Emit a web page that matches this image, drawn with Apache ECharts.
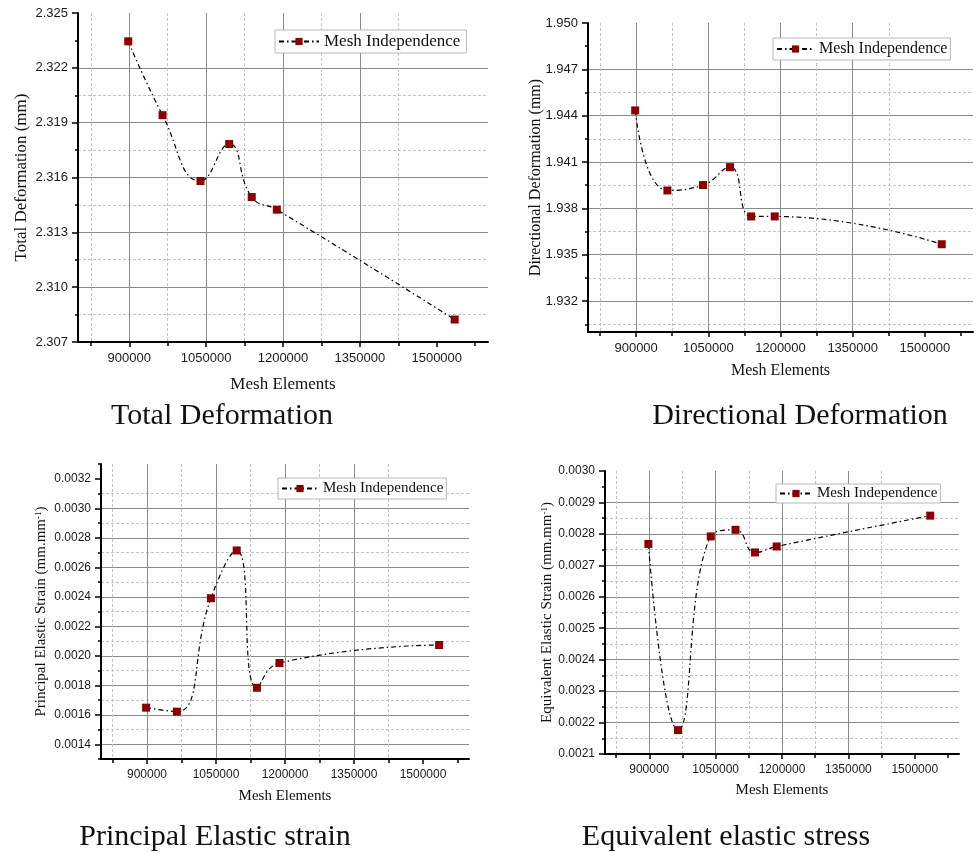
<!DOCTYPE html>
<html>
<head>
<meta charset="utf-8">
<title>Mesh Independence</title>
<script src="https://cdn.jsdelivr.net/npm/echarts@6/dist/echarts.min.js"></script>
<style>
  html, body { margin: 0; padding: 0; background: #fff; }
  #chart { width: 976px; height: 853px; }
</style>
</head>
<body>
<div id="chart"></div>
<script>
// mesh element counts, shared by the four plots
const meshElements = [898000, 965000, 1039000, 1095000, 1139000, 1188000, 1535000]

// results per mesh
const totalDeformation = [2.32345, 2.31941, 2.31581, 2.31783, 2.31493, 2.31424, 2.30823]
const directionalDeformation = [1.94434, 1.93916, 1.93951, 1.94067, 1.93748, 1.93748, 1.93568]
const principalStrain = [0.001648, 0.001621, 0.002390, 0.002714, 0.001783, 0.001951, 0.002073]
const equivalentStrain = [0.002768, 0.002176, 0.002792, 0.002813, 0.002741, 0.002760, 0.002858]

// tick values (major = labelled, minor = dashed grid)
const xMajor = [900000, 1050000, 1200000, 1350000, 1500000]
const xMinor = [825000, 975000, 1125000, 1275000, 1425000, 1575000]
const totalMajor = [2.307, 2.310, 2.313, 2.316, 2.319, 2.322, 2.325]
const totalMinor = [2.3085, 2.3115, 2.3145, 2.3175, 2.3205, 2.3235]
const directionalMajor = [1.932, 1.935, 1.938, 1.941, 1.944, 1.947, 1.950]
const directionalMinor = [1.9305, 1.9335, 1.9365, 1.9395, 1.9425, 1.9455, 1.9485]
const principalMajor = [0.0014, 0.0016, 0.0018, 0.0020, 0.0022, 0.0024, 0.0026, 0.0028, 0.0030, 0.0032]
const principalMinor = [0.0013, 0.0015, 0.0017, 0.0019, 0.0021, 0.0023, 0.0025, 0.0027, 0.0029, 0.0031, 0.0033]
const equivalentMajor = [0.0021, 0.0022, 0.0023, 0.0024, 0.0025, 0.0026, 0.0027, 0.0028, 0.0029, 0.0030]
const equivalentMinor = [0.00215, 0.00225, 0.00235, 0.00245, 0.00255, 0.00265, 0.00275, 0.00285, 0.00295]

const seriesName = 'Mesh Independence'
const xName = 'Mesh Elements'
const plotTitles = ['Total Deformation', 'Directional Deformation', 'Principal Elastic strain', 'Equivalent elastic stress']

const SERIF = '"Liberation Serif", "Times New Roman", serif'
const SANS = '"Liberation Sans", Arial, sans-serif'

// layout of each panel
const panels = [
  {
    grid: { left: 78, top: 13, width: 410, height: 329 },
    yRange: [2.307, 2.325], values: totalDeformation, yMajor: totalMajor, yMinor: totalMinor, digits: 3,
    yName: '{n|Total Deformation (mm)}',
    labelSize: 13, nameSize: 17, yGap: 48, xGap: 34,
    legend: { left: 275, top: 30, icon: 40, pad: [3, 6, 3, 3] }, title: { x: 222, y: 416 }
  },
  {
    grid: { left: 588, top: 23, width: 385, height: 309 },
    yRange: [1.930, 1.950], values: directionalDeformation, yMajor: directionalMajor, yMinor: directionalMinor, digits: 3,
    yName: '{n|Directional Deformation (mm)}',
    labelSize: 13, nameSize: 16, yGap: 44, xGap: 31,
    legend: { left: 773, top: 38, icon: 37, pad: [3, 3, 3, 3] }, title: { x: 800, y: 416 }
  },
  {
    grid: { left: 101, top: 464, width: 368, height: 295 },
    yRange: [0.0013, 0.0033], values: principalStrain, yMajor: principalMajor, yMinor: principalMinor, digits: 4,
    yName: '{n|Principal Elastic Strain (mm.mm}{s|-1}{n|)}',
    labelSize: 12, nameSize: 15, yGap: 52, xGap: 30,
    legend: { left: 278, top: 478, icon: 36, pad: [3, 3, 3, 3] }, title: { x: 215, y: 837 }
  },
  {
    grid: { left: 605, top: 471, width: 354, height: 283 },
    yRange: [0.0021, 0.0030], values: equivalentStrain, yMajor: equivalentMajor, yMinor: equivalentMinor, digits: 4,
    yName: '{n|Equivalent Elastic Strain (mm.mm}{s|-1}{n|)}',
    labelSize: 12, nameSize: 15, yGap: 50, xGap: 29,
    legend: { left: 776, top: 484, icon: 32, pad: [2, 3, 2, 3] }, title: { x: 726, y: 837 }
  }
]

const grids = []
const xAxes = []
const yAxes = []
const series = []
const legends = []
const graphics = []

panels.forEach((p, i) => {
  grids.push(Object.assign({ containLabel: false, outerBoundsMode: 'none' }, p.grid))

  // major x axis
  xAxes.push({
    type: 'value', gridIndex: i, position: 'bottom', min: 800000, max: 1600000,
    axisLine: { show: true, onZero: false, lineStyle: { color: '#000', width: 2 } },
    axisTick: { show: true, inside: false, length: 5, customValues: xMajor, lineStyle: { color: '#000', width: 1.5 } },
    axisLabel: { customValues: xMajor, margin: 10, fontSize: p.labelSize, fontFamily: SANS, color: '#1a1a1a', formatter: v => String(v) },
    splitLine: { show: true, showMaxLine: false, lineStyle: { color: '#8a8a8a', width: 1 } },
    name: xName, nameLocation: 'middle', nameGap: p.xGap, nameMoveOverlap: false,
    nameTextStyle: { fontFamily: SERIF, fontSize: p.nameSize, color: '#111' }
  })
  // minor x axis
  xAxes.push({
    type: 'value', gridIndex: i, position: 'bottom', min: 800000, max: 1600000,
    axisLine: { show: false, onZero: false },
    axisTick: { show: true, length: 4, customValues: xMinor, lineStyle: { color: '#000', width: 1.5 } },
    axisLabel: { show: false },
    splitLine: { show: true, showMaxLine: false, lineStyle: { color: '#c4c4c4', width: 1, type: [3, 2] } }
  })

  // major y axis
  yAxes.push({
    type: 'value', gridIndex: i, position: 'left', min: p.yRange[0], max: p.yRange[1],
    axisLine: { show: true, onZero: false, lineStyle: { color: '#000', width: 2 } },
    axisTick: { show: true, inside: false, length: 6, customValues: p.yMajor, lineStyle: { color: '#000', width: 1.5 } },
    axisLabel: { customValues: p.yMajor, margin: 10, fontSize: p.labelSize, fontFamily: SANS, color: '#1a1a1a', formatter: v => v.toFixed(p.digits) },
    splitLine: { show: true, showMaxLine: false, lineStyle: { color: '#8a8a8a', width: 1 } },
    name: p.yName, nameLocation: 'middle', nameGap: p.yGap, nameRotate: 90, nameMoveOverlap: false,
    nameTextStyle: {
      rich: {
        n: { fontFamily: SERIF, fontSize: p.nameSize, color: '#111' },
        s: { fontFamily: SERIF, fontSize: Math.round(p.nameSize * 0.6), color: '#111', verticalAlign: 'top' }
      }
    }
  })
  // minor y axis
  yAxes.push({
    type: 'value', gridIndex: i, position: 'left', min: p.yRange[0], max: p.yRange[1],
    axisLine: { show: false, onZero: false },
    axisTick: { show: true, length: 3, customValues: p.yMinor, lineStyle: { color: '#000', width: 1.5 } },
    axisLabel: { show: false },
    splitLine: { show: true, showMaxLine: false, lineStyle: { color: '#c4c4c4', width: 1, type: [3, 2] } }
  })

  series.push({
    name: seriesName,
    type: 'line',
    xAxisIndex: i * 2,
    yAxisIndex: i * 2,
    smooth: 0.5,
    symbol: 'rect',
    symbolSize: 8,
    itemStyle: { color: '#8b0000' },
    lineStyle: { color: '#000', width: 1.2, type: [5, 3, 1.5, 3] },
    data: meshElements.map((x, k) => [x, p.values[k]])
  })

  legends.push({
    left: p.legend.left, top: p.legend.top,
    data: [seriesName], selectedMode: false,
    backgroundColor: '#fff', borderColor: '#b8b8b8', borderWidth: 1, padding: p.legend.pad,
    itemWidth: p.legend.icon, itemHeight: 9, itemGap: 0,
    textStyle: { fontFamily: SERIF, fontSize: p.nameSize, color: '#111' }
  })

  graphics.push({
    type: 'text', x: p.title.x, y: p.title.y,
    style: { text: plotTitles[i], font: '30px ' + SERIF, fill: '#111', align: 'center', verticalAlign: 'middle' }
  })
})

const chart = echarts.init(document.getElementById('chart'), null, { renderer: 'canvas' })
chart.setOption({
  backgroundColor: '#fff',
  animation: false,
  grid: grids,
  xAxis: xAxes,
  yAxis: yAxes,
  legend: legends,
  series: series,
  graphic: graphics
})
</script>
</body>
</html>
